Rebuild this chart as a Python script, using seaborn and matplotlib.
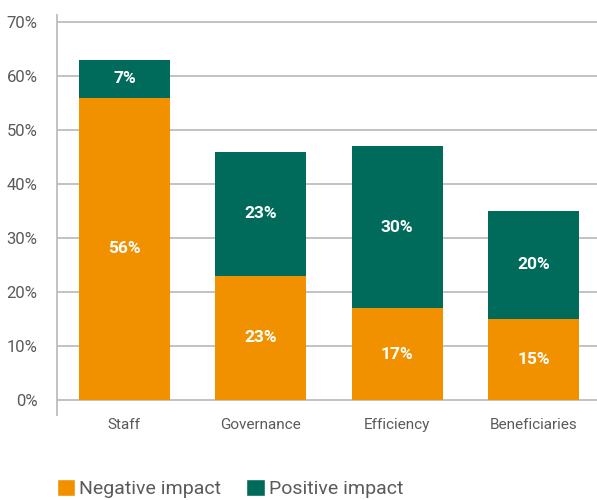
import matplotlib
matplotlib.use("Agg")
import matplotlib.pyplot as plt
import seaborn as sns
import pandas as pd
from matplotlib.patches import Patch

categories = ["Staff", "Governance", "Efficiency", "Beneficiaries"]
negative = [56, 23, 17, 15]
positive = [7, 23, 30, 20]
yticks = [0, 10, 20, 30, 40, 50, 60, 70]

ORANGE = "#F29100"
TEAL = "#006B5A"
GRID = "#BDBDBD"
TEXT = "#5A5A5A"

sns.set_theme(style="white")
plt.rcParams["font.family"] = ["Roboto", "DejaVu Sans"]

df = pd.DataFrame({"cat": categories, "neg": negative, "pos": positive})
df["total"] = df["neg"] + df["pos"]

fig = plt.figure(figsize=(5.97, 5.0), dpi=100)
ax = fig.add_axes([57 / 597, 85 / 500, 540 / 597, 400 / 500])

sns.barplot(data=df, x="cat", y="total", color=TEAL, width=0.667, ax=ax,
            saturation=1, zorder=3, linewidth=0)
sns.barplot(data=df, x="cat", y="neg", color=ORANGE, width=0.667, ax=ax,
            saturation=1, zorder=3, linewidth=0)

for i, (n, p) in enumerate(zip(negative, positive)):
    ax.text(i, n / 2, f"{n}%", ha="center", va="center", color="white",
            fontsize=12.5, fontweight="bold", zorder=4)
    ax.text(i, n + p / 2, f"{p}%", ha="center", va="center", color="white",
            fontsize=12.5, fontweight="bold", zorder=4)

ax.set_xlim(-0.494, 3.465)
ax.set_ylim(-2.8, 71.3)
ax.set_yticks(yticks)
ax.set_yticklabels([f"{v}%" for v in yticks])
ax.yaxis.grid(True, color=GRID, linewidth=1.3, zorder=0)
ax.set_axisbelow(True)
ax.tick_params(axis="y", length=11, width=1.3, color=GRID, labelcolor=TEXT,
               labelsize=12, pad=3)
ax.tick_params(axis="x", length=0, labelcolor=TEXT, labelsize=11, pad=2)
ax.set_xlabel("")
ax.set_ylabel("")
for s in ["top", "right", "bottom"]:
    ax.spines[s].set_visible(False)
ax.spines["left"].set_color(GRID)
ax.spines["left"].set_linewidth(1.3)

handles = [Patch(facecolor=ORANGE, label="Negative impact"),
           Patch(facecolor=TEAL, label="Positive impact")]
fig.legend(handles=handles, loc="lower left", bbox_to_anchor=(47 / 597, -0.016),
           ncol=2, frameon=False, fontsize=14, labelcolor=TEXT,
           handlelength=0.95, handleheight=0.95, handletextpad=0.2,
           columnspacing=1.3, borderpad=0)

fig.savefig("out.png", dpi=100)
